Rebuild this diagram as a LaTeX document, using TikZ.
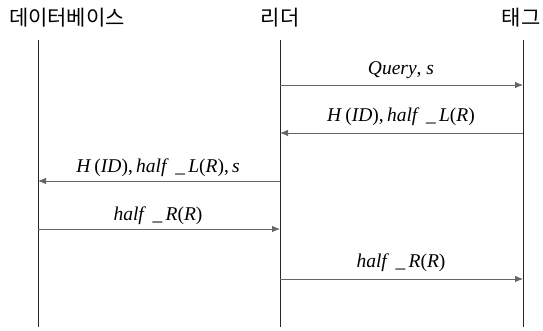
\documentclass[tikz,border=0pt]{standalone}
\usepackage{fontspec}
\setmainfont{Liberation Serif}
\newfontfamily\krfont{Noto Sans CJK KR}
\usetikzlibrary{arrows.meta}
\begin{document}
\begin{tikzpicture}[x=1pt,y=-1pt,
  head/.style={font=\krfont\fontsize{21}{24}\selectfont, anchor=base, inner sep=0pt},
  life/.style={line width=0.9pt, draw=black!85},
  msg/.style={line width=0.8pt, draw=black!60, -{Latex[length=8pt,width=6.5pt]}},
  lbl/.style={font=\fontsize{19.5}{22}\selectfont, anchor=base, inner sep=0pt}]
\useasboundingbox (0,0) rectangle (543,331);
\node[head] (db) at (67,26) {데이터베이스};
\node[head] (rd) at (280,26) {리더};
\node[head] (tg) at (521,26) {태그};
% lifelines
\coordinate (dbT) at (38,40); \coordinate (dbB) at (38,327);
\coordinate (rdT) at (280,40); \coordinate (rdB) at (280,327);
\coordinate (tgT) at (523,40); \coordinate (tgB) at (523,327);
\draw[life] (dbT) -- (dbB);
\draw[life] (rdT) -- (rdB);
\draw[life] (tgT) -- (tgB);
% message points
\coordinate (r1) at (280,85);  \coordinate (t1) at (523,85);
\coordinate (t2) at (523,133); \coordinate (r2) at (280,133);
\coordinate (r3) at (280,181); \coordinate (d3) at (38,181);
\coordinate (d4) at (38,229);  \coordinate (r4) at (280,229);
\coordinate (r5) at (280,279); \coordinate (t5) at (523,279);
\draw[msg] (r1) -- (t1);
\draw[msg] (t2) -- (r2);
\draw[msg] (r3) -- (d3);
\draw[msg] (d4) -- (r4);
\draw[msg] (r5) -- (t5);
\node[lbl] (l1) at (401,75) {\textit{Query}, \textit{s}};
\node[lbl] (l2) at (401,122) {\textit{H}\,(\textit{ID}),\,\textit{half}\,\,\_\,\textit{L}(\textit{R})};
\node[lbl] (l3) at (158,172) {\textit{H}\,(\textit{ID}),\,\textit{half}\,\,\_\,\textit{L}(\textit{R}),\,\textit{s}};
\node[lbl] (l4) at (158,220) {\textit{half}\,\,\_\,\textit{R}(\textit{R})};
\node[lbl] (l5) at (401,267) {\textit{half}\,\,\_\,\textit{R}(\textit{R})};
\end{tikzpicture}
\end{document}
